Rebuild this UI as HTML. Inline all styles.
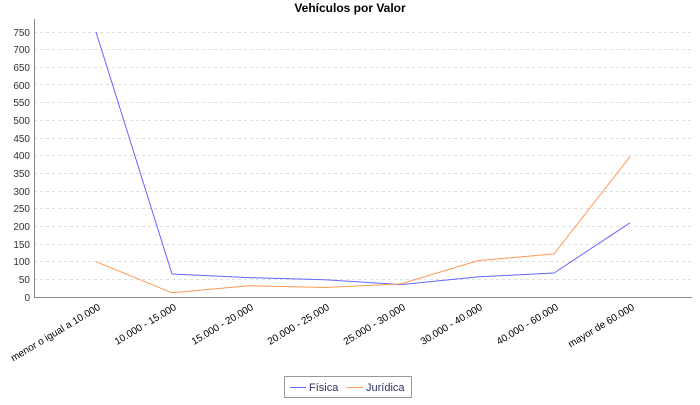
<!DOCTYPE html>
<html><head><style>body{margin:0;background:#fff}</style></head><body>
<svg width="700" height="400" xmlns="http://www.w3.org/2000/svg" font-family="Liberation Sans, sans-serif">
<rect width="700" height="400" fill="#fff"/>
<text x="350" y="12" text-anchor="middle" font-size="12" font-weight="bold">Vehículos por Valor</text>
<g stroke="#ddd" stroke-dasharray="3,3" stroke-width="1">
<line x1="34" x2="692" y1="279.5" y2="279.5"/><line x1="34" x2="692" y1="261.5" y2="261.5"/><line x1="34" x2="692" y1="244.5" y2="244.5"/><line x1="34" x2="692" y1="226.5" y2="226.5"/><line x1="34" x2="692" y1="208.5" y2="208.5"/><line x1="34" x2="692" y1="191.5" y2="191.5"/><line x1="34" x2="692" y1="173.5" y2="173.5"/><line x1="34" x2="692" y1="155.5" y2="155.5"/><line x1="34" x2="692" y1="138.5" y2="138.5"/><line x1="34" x2="692" y1="120.5" y2="120.5"/><line x1="34" x2="692" y1="102.5" y2="102.5"/><line x1="34" x2="692" y1="84.5" y2="84.5"/><line x1="34" x2="692" y1="67.5" y2="67.5"/><line x1="34" x2="692" y1="49.5" y2="49.5"/><line x1="34" x2="692" y1="32.5" y2="32.5"/>
</g>
<line x1="34.5" y1="19" x2="34.5" y2="297" stroke="#888"/>
<line x1="34" y1="297.5" x2="692" y2="297.5" stroke="#888"/>
<g font-size="10" text-anchor="end" fill="#333">
<text x="30" y="301">0</text><text x="30" y="283">50</text><text x="30" y="265">100</text><text x="30" y="248">150</text><text x="30" y="230">200</text><text x="30" y="212">250</text><text x="30" y="195">300</text><text x="30" y="177">350</text><text x="30" y="159">400</text><text x="30" y="142">450</text><text x="30" y="124">500</text><text x="30" y="106">550</text><text x="30" y="89">600</text><text x="30" y="71">650</text><text x="30" y="53">700</text><text x="30" y="36">750</text>
</g>
<polyline fill="none" stroke="#6666ff" stroke-width="1" points="96,32 172,274 249,277.6 325,279.7 401,284.6 478,276.9 554,273 630,222.8"/>
<polyline fill="none" stroke="#ff9955" stroke-width="1" points="96,261.7 172,292.8 249,285.7 325,287.5 401,283.9 478,260.6 554,253.9 630,156.7"/>
<g font-size="10" text-anchor="end" fill="#000">
<text transform="translate(101,309) rotate(-31)">menor o igual a 10.000</text>
<text transform="translate(177,309) rotate(-31)">10.000 - 15.000</text>
<text transform="translate(254,309) rotate(-31)">15.000 - 20.000</text>
<text transform="translate(330,309) rotate(-31)">20.000 - 25.000</text>
<text transform="translate(406,309) rotate(-31)">25.000 - 30.000</text>
<text transform="translate(483,309) rotate(-31)">30.000 - 40.000</text>
<text transform="translate(559,309) rotate(-31)">40.000 - 60.000</text>
<text transform="translate(635,309) rotate(-31)">mayor de 60.000</text>
</g>
<rect x="284.5" y="376.5" width="127" height="21" fill="#fff" stroke="#999"/>
<line x1="290" y1="387.5" x2="306" y2="387.5" stroke="#6666ff"/>
<text x="309" y="391" font-size="11" fill="#333366">Física</text>
<line x1="347" y1="387.5" x2="363" y2="387.5" stroke="#ff9955"/>
<text x="366" y="391" font-size="11" fill="#333366">Jurídica</text>
</svg>
</body></html>
